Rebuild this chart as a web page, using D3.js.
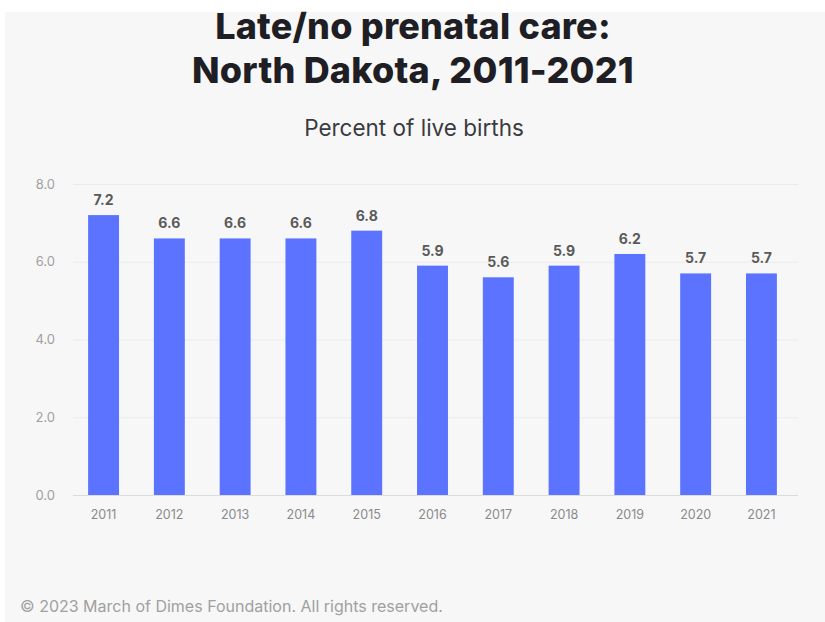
<!DOCTYPE html>
<html>
<head>
<meta charset="utf-8">
<script src="https://cdn.jsdelivr.net/npm/d3@7"></script>
<style>
  html, body { margin: 0; padding: 0; background: #ffffff; }
  svg { display: block; }
</style>
</head>
<body>
<svg id="chart" width="825" height="622"></svg>
<script>
// Late/no prenatal care, North Dakota — percent of live births by year
const years = ["2011", "2012", "2013", "2014", "2015", "2016", "2017", "2018", "2019", "2020", "2021"];
const values = [7.2, 6.6, 6.6, 6.6, 6.8, 5.9, 5.6, 5.9, 6.2, 5.7, 5.7];
const yTicks = [0, 2, 4, 6, 8];
const titleLines = ["Late/no prenatal care:", "North Dakota, 2011-2021"];
const subtitle = "Percent of live births";
const footer = "© 2023 March of Dimes Foundation. All rights reserved.";

const W = 825, H = 622;
const margin = { top: 184, right: 31, bottom: 127, left: 71 };
const svg = d3.select("#chart");

// panel background
svg.append("rect").attr("x", 5).attr("y", 12).attr("width", W - 5).attr("height", H - 12).attr("fill", "#f7f7f7");

const x = d3.scaleBand().domain(years).range([margin.left, W - margin.right]).paddingInner(0.53).paddingOuter(0.26);
const y = d3.scaleLinear().domain([0, 8]).range([H - margin.bottom, margin.top]);

// titles
svg.append("g").selectAll("text").data(titleLines).join("text")
  .attr("x", 413).attr("y", (d, i) => 39 + i * 44)
  .attr("text-anchor", "middle")
  .attr("font-family", "Inter, 'Open Sans', sans-serif")
  .attr("font-weight", 800).attr("font-size", 36).attr("letter-spacing", 0.2)
  .attr("fill", "#1e1e24").text(d => d);

svg.append("text").attr("x", 414).attr("y", 136).attr("text-anchor", "middle")
  .attr("font-family", "Inter, sans-serif").attr("font-size", 22.5).attr("fill", "#3a3a42")
  .text(subtitle);

// y axis with grid
const yAxis = d3.axisLeft(y).tickValues(yTicks).tickFormat(d3.format(".1f"))
  .tickSize(-(W - margin.right - margin.left + 2)).tickPadding(18);
const gy = svg.append("g").attr("transform", `translate(${margin.left + 2},0)`).call(yAxis);
gy.select(".domain").remove();
gy.selectAll(".tick line").attr("stroke", d => d === 0 ? "#dcdcdc" : "#ebebeb").attr("stroke-width", 1);
gy.selectAll(".tick text").attr("font-family", "Inter, sans-serif").attr("font-size", 13).attr("fill", "#a0a0a0");

// x axis labels
const xAxis = d3.axisBottom(x).tickSize(0).tickPadding(15);
const gx = svg.append("g").attr("transform", `translate(0,${H - margin.bottom})`).call(xAxis);
gx.select(".domain").remove();
gx.selectAll(".tick text").attr("font-family", "Inter, sans-serif").attr("font-size", 12.5).attr("fill", "#8a8a8a");

// bars
const data = years.map((yr, i) => ({ yr, v: values[i] }));
svg.append("g").selectAll("rect").data(data).join("rect")
  .attr("x", d => x(d.yr)).attr("width", x.bandwidth())
  .attr("y", d => y(d.v)).attr("height", d => y(0) - y(d.v))
  .attr("fill", "#5b73ff");

// value labels
svg.append("g").selectAll("text").data(data).join("text")
  .attr("x", d => x(d.yr) + x.bandwidth() / 2).attr("y", d => y(d.v) - 10)
  .attr("text-anchor", "middle")
  .attr("font-family", "Inter, sans-serif").attr("font-weight", 700).attr("font-size", 14)
  .attr("fill", "#5a5a5a").text(d => d.v.toFixed(1));

// footer
svg.append("text").attr("x", 20).attr("y", 612)
  .attr("font-family", "Inter, sans-serif").attr("font-size", 16).attr("fill", "#a0a0a0")
  .text(footer);
</script>
</body>
</html>
